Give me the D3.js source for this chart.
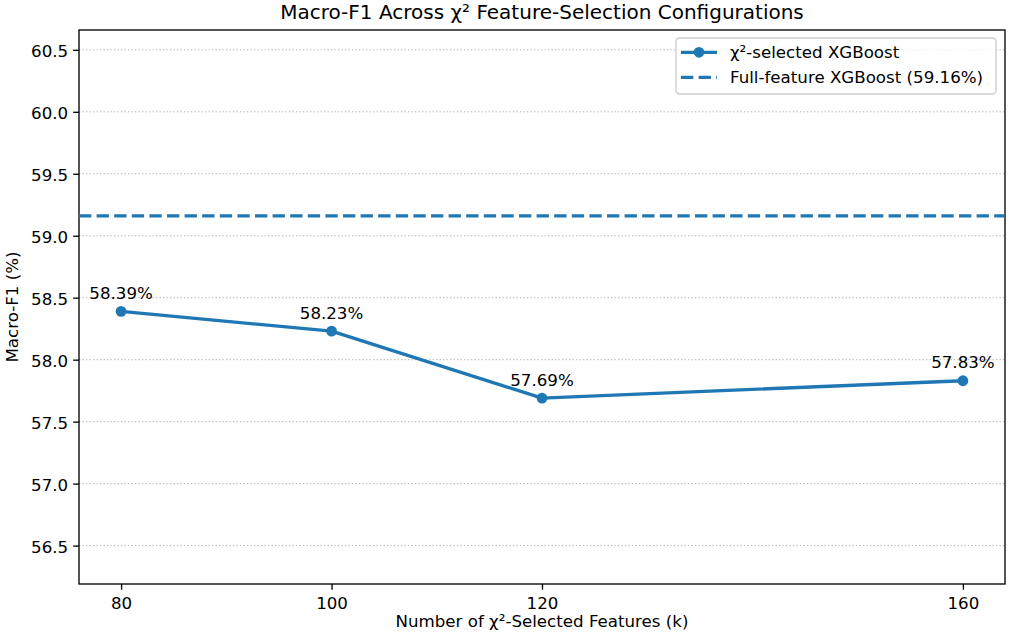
<!DOCTYPE html>
<html>
<head>
<meta charset="utf-8">
<script src="https://cdn.jsdelivr.net/npm/d3@7"></script>
<style>
  body { margin: 0; background: #fff; }
  svg { font-family: "DejaVu Sans", sans-serif; }
</style>
</head>
<body>
<svg id="chart"></svg>
<script>
// data
const kValues = [80, 100, 120, 160];
const macroF1 = [58.39, 58.23, 57.69, 57.83];
const fullFeatureF1 = 59.16;
const xTicks = [80, 100, 120, 160];
const yTicks = [56.5, 57.0, 57.5, 58.0, 58.5, 59.0, 59.5, 60.0, 60.5];
const seriesNames = ["χ²-selected XGBoost", "Full-feature XGBoost (59.16%)"];

const width = 1009, height = 643;
const margin = { left: 79, right: 4, top: 30, bottom: 59 };
const blue = "#1f77b4";

const svg = d3.select("#chart").attr("width", width).attr("height", height);

const x = d3.scaleLinear()
    .domain([76, 164])
    .range([margin.left, width - margin.right]);
const y = d3.scaleLinear()
    .domain([d3.min(macroF1) - 1.5, fullFeatureF1 + 1.5])
    .range([height - margin.bottom, margin.top]);

// grid
svg.append("g")
    .selectAll("line")
    .data(yTicks)
    .enter()
    .append("line")
    .attr("x1", margin.left)
    .attr("x2", width - margin.right)
    .attr("y1", d => y(d))
    .attr("y2", d => y(d))
    .attr("stroke", "#b0b0b0")
    .attr("stroke-width", 1)
    .attr("stroke-dasharray", "1.3,2.2");

// axes
const xAxis = svg.append("g")
    .attr("transform", `translate(0,${height - margin.bottom})`)
    .call(d3.axisBottom(x).tickValues(xTicks).tickSize(5.8).tickPadding(5).tickFormat(d3.format("d")));
const yAxis = svg.append("g")
    .attr("transform", `translate(${margin.left},0)`)
    .call(d3.axisLeft(y).tickValues(yTicks).tickSize(5.8).tickPadding(5).tickFormat(d3.format(".1f")));

[xAxis, yAxis].forEach(g => {
    g.select(".domain").remove();
    g.selectAll(".tick line").attr("stroke", "#000").attr("stroke-width", 1.33);
    g.selectAll(".tick text")
        .attr("fill", "#000")
        .attr("font-size", "16.67px")
        .attr("font-family", "DejaVu Sans");
});
xAxis.selectAll(".tick text").attr("dy", null).attr("y", 25.3).attr("dominant-baseline", null);
yAxis.selectAll(".tick text").attr("dy", null).attr("y", 7);

// frame
svg.append("rect")
    .attr("x", margin.left)
    .attr("y", margin.top)
    .attr("width", width - margin.left - margin.right)
    .attr("height", height - margin.top - margin.bottom)
    .attr("fill", "none")
    .attr("stroke", "#000")
    .attr("stroke-width", 1.33);

// full-feature baseline
svg.append("line")
    .attr("x1", margin.left)
    .attr("x2", width - margin.right)
    .attr("y1", y(fullFeatureF1))
    .attr("y2", y(fullFeatureF1))
    .attr("stroke", blue)
    .attr("stroke-width", 3.33)
    .attr("stroke-dasharray", "12.3,5.3");

// selected-features line
const pts = kValues.map((k, i) => ({ k: k, v: macroF1[i] }));
svg.append("path")
    .datum(pts)
    .attr("fill", "none")
    .attr("stroke", blue)
    .attr("stroke-width", 3.33)
    .attr("stroke-linejoin", "round")
    .attr("d", d3.line().x(d => x(d.k)).y(d => y(d.v)));

svg.selectAll("circle.pt")
    .data(pts)
    .enter()
    .append("circle")
    .attr("class", "pt")
    .attr("cx", d => x(d.k))
    .attr("cy", d => y(d.v))
    .attr("r", 5.4)
    .attr("fill", blue);

svg.selectAll("text.val")
    .data(pts)
    .enter()
    .append("text")
    .attr("class", "val")
    .attr("x", d => x(d.k))
    .attr("y", d => y(d.v) - 12.5)
    .attr("text-anchor", "middle")
    .attr("font-size", "16.67px")
    .attr("fill", "#000")
    .text(d => d.v.toFixed(2) + "%");

// title and labels
svg.append("text")
    .attr("x", (margin.left + width - margin.right) / 2)
    .attr("y", 19)
    .attr("text-anchor", "middle")
    .attr("font-size", "20px")
    .attr("fill", "#000")
    .text("Macro-F1 Across χ² Feature-Selection Configurations");

svg.append("text")
    .attr("x", (margin.left + width - margin.right) / 2)
    .attr("y", 627)
    .attr("text-anchor", "middle")
    .attr("font-size", "16.67px")
    .attr("fill", "#000")
    .text("Number of χ²-Selected Features (k)");

svg.append("text")
    .attr("transform", `translate(18,${(margin.top + height - margin.bottom) / 2}) rotate(-90)`)
    .attr("text-anchor", "middle")
    .attr("font-size", "16.67px")
    .attr("fill", "#000")
    .text("Macro-F1 (%)");

// legend
const legend = svg.append("g").attr("transform", "translate(676,38)");
legend.append("rect")
    .attr("width", 320)
    .attr("height", 56)
    .attr("rx", 3.5)
    .attr("fill", "#fff")
    .attr("fill-opacity", 0.8)
    .attr("stroke", "#cccccc")
    .attr("stroke-width", 1.33);

const rows = legend.selectAll("g.row")
    .data(seriesNames)
    .enter()
    .append("g")
    .attr("class", "row")
    .attr("transform", (d, i) => `translate(0,${14.3 + i * 25})`);

rows.append("line")
    .attr("x1", 5)
    .attr("x2", 41)
    .attr("stroke", blue)
    .attr("stroke-width", 3.33)
    .attr("stroke-dasharray", (d, i) => i === 1 ? "12.3,5.3" : null);

rows.filter((d, i) => i === 0)
    .append("circle")
    .attr("cx", 23)
    .attr("r", 5.4)
    .attr("fill", blue);

rows.append("text")
    .attr("x", 54)
    .attr("y", 6)
    .attr("font-size", "16.67px")
    .attr("fill", "#000")
    .text(d => d);
</script>
</body>
</html>
